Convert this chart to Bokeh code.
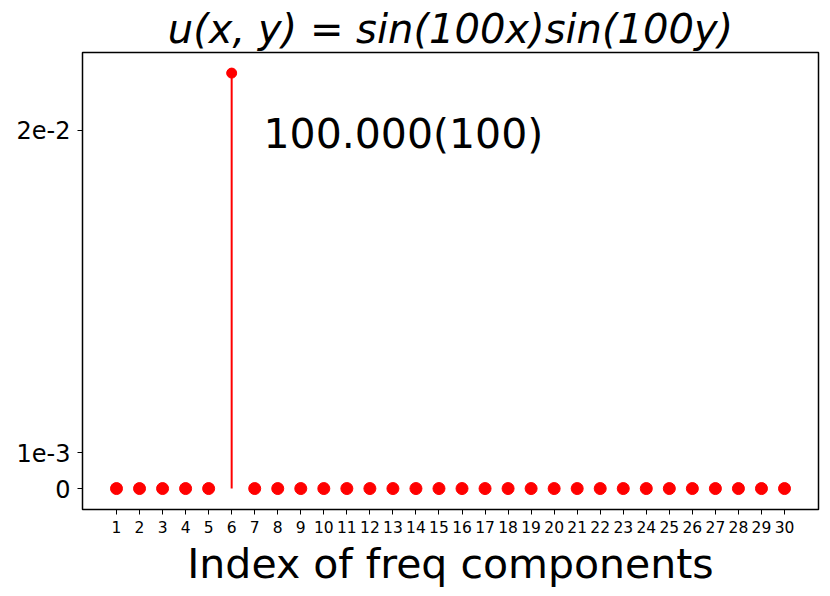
from bokeh.plotting import figure
from bokeh.models import FixedTicker, Label, Range1d, ColumnDataSource
from bokeh.embed import file_html
from bokeh.resources import INLINE

# data
indices = list(range(1, 31))
amplitudes = [0.0] * 5 + [0.0232] + [0.0] * 24
marker_sizes = [12] * 5 + [10] + [12] * 24
y_ticks = [0, 0.002, 0.02]
y_tick_labels = ["0", "1e-3", "2e-2"]
annotation_text = "100.000(100)"
annotation_x = 7.38
annotation_y = 0.0198
title_text = "u(x, y) = sin(100x)sin(100y)"
x_label = "Index of freq components"

FONT = "DejaVu Sans"

p = figure(width=822, height=590, output_backend="svg", toolbar_location=None,
           x_range=Range1d(-0.476, 31.476), y_range=Range1d(-0.00117, 0.02435),
           min_border_left=82, min_border_right=4, min_border_top=52, min_border_bottom=80)

p.title.text = title_text
p.title.text_font = FONT
p.title.text_font_style = "italic"
p.title.text_font_size = "40px"
p.title.align = "center"
p.title.text_color = "black"
p.title.standoff = 2

src = ColumnDataSource(dict(x=indices, y=amplitudes, y0=[0.0] * 30, s=marker_sizes))
p.segment(x0="x", y0="y0", x1="x", y1="y", source=src, line_color="red", line_width=2)
p.scatter(x="x", y="y", size="s", source=src, color="red")

p.xgrid.visible = False
p.ygrid.visible = False
p.outline_line_color = "black"
p.outline_line_width = 1.5
p.background_fill_color = "white"
p.border_fill_color = "white"

p.xaxis.ticker = FixedTicker(ticks=indices)
p.xaxis.major_label_text_font = FONT
p.xaxis.major_label_text_font_size = "15.5px"
p.xaxis.major_label_standoff = 6
p.xaxis.axis_label = x_label
p.xaxis.axis_label_text_font = FONT
p.xaxis.axis_label_text_font_style = "normal"
p.xaxis.axis_label_text_font_size = "41px"
p.xaxis.axis_label_standoff = 4

p.yaxis.ticker = FixedTicker(ticks=y_ticks)
p.yaxis.major_label_overrides = {t: l for t, l in zip(y_ticks, y_tick_labels)}
p.yaxis.major_label_text_font = FONT
p.yaxis.major_label_text_font_size = "24px"
p.yaxis.major_label_standoff = 7

for ax in (p.xaxis, p.yaxis):
    ax.axis_line_color = None
    ax.major_tick_in = 0
    ax.major_tick_out = 5
    ax.major_tick_line_color = "black"
    ax.minor_tick_line_color = None
    ax.major_label_text_color = "black"
    ax.axis_label_text_color = "black"

p.add_layout(Label(x=annotation_x, y=annotation_y, text=annotation_text,
                   text_font=FONT, text_font_size="41px", text_color="black",
                   text_baseline="alphabetic"))

open("out.html", "w").write(file_html(p, INLINE))
